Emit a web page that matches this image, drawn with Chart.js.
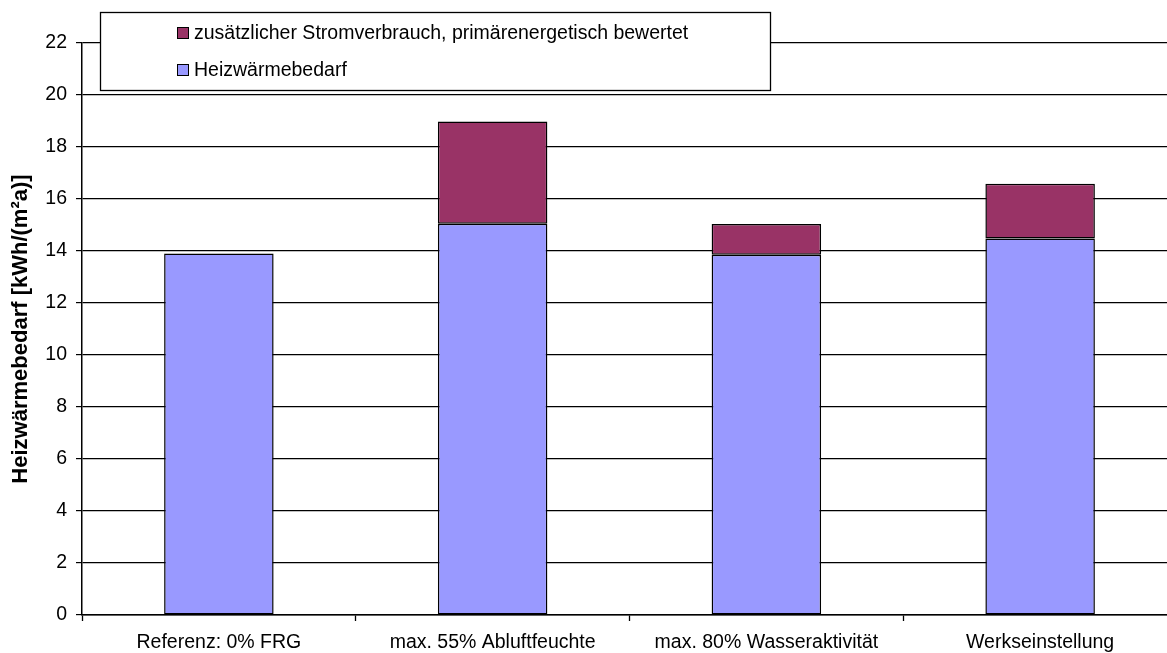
<!DOCTYPE html>
<html>
<head>
<meta charset="utf-8">
<script src="https://cdn.jsdelivr.net/npm/chart.js@4"></script>
<style>
html,body{margin:0;padding:0;background:#fff;overflow:hidden;}
#wrap{width:1180px;height:653px;position:relative;}
</style>
</head>
<body>
<div id="wrap"><canvas id="c" width="1180" height="653"></canvas></div>
<script>
const categories = ['Referenz: 0% FRG', 'max. 55% Abluftfeuchte', 'max. 80% Wasseraktivität', 'Werkseinstellung'];
const heizwaermebedarf = [13.9, 15.05, 13.86, 14.48];
const zusatzStrom = [null, 3.93, 1.18, 2.11];
const seriesLabels = ['Heizwärmebedarf', 'zusätzlicher Stromverbrauch, primärenergetisch bewertet'];
const yTitle = 'Heizwärmebedarf [kWh/(m²a)]';
const yMin = 0, yMax = 22, yStep = 2;

const FONT = '"Liberation Sans", Arial, sans-serif';

const boxLegend = {
  id: 'boxLegend',
  afterDraw(chart) {
    const ctx = chart.ctx;
    ctx.save();
    ctx.fillStyle = '#ffffff';
    ctx.fillRect(100.5, 12.5, 670, 78);
    ctx.strokeStyle = '#000';
    ctx.lineWidth = 1.3;
    ctx.strokeRect(100.5, 12.5, 670, 78);
    const ds = chart.data.datasets.slice().reverse();
    const ys = [33, 70];
    ctx.font = '19.5px ' + FONT;
    ctx.textBaseline = 'middle';
    ctx.textAlign = 'left';
    ctx.lineWidth = 1;
    ds.forEach((d, i) => {
      const y = ys[i];
      ctx.fillStyle = d.backgroundColor;
      ctx.fillRect(177.5, y - 5.5, 11, 11);
      ctx.strokeStyle = '#000';
      ctx.strokeRect(177.5, y - 5.5, 11, 11);
      ctx.fillStyle = '#000';
      ctx.fillText(d.label, 194, y + 1);
    });
    ctx.restore();
  }
};

new Chart(document.getElementById('c'), {
  type: 'bar',
  data: {
    labels: categories,
    datasets: [
      { label: seriesLabels[0], data: heizwaermebedarf, backgroundColor: '#9999FF', borderColor: '#000', borderWidth: 1.5, borderSkipped: false, barPercentage: 0.4, categoryPercentage: 1 },
      { label: seriesLabels[1], data: zusatzStrom, backgroundColor: '#993366', borderColor: '#000', borderWidth: 1.5, borderSkipped: false, barPercentage: 0.4, categoryPercentage: 1 }
    ]
  },
  options: {
    responsive: false,
    animation: false,
    devicePixelRatio: 1,
    layout: { padding: { left: 0, right: 3, top: 43, bottom: 0 } },
    plugins: { legend: { display: false }, tooltip: { enabled: false }, title: { display: false } },
    scales: {
      x: {
        stacked: true,
        offset: true,
        grid: { display: true, drawOnChartArea: false, offset: true, color: '#000', tickLength: 6, tickWidth: 1.3 },
        border: { color: '#000', width: 1.5 },
        ticks: { color: '#000', font: { family: FONT, size: 19.5 }, padding: 10, maxRotation: 0, autoSkip: false },
        afterFit(s) { s.height = 38; }
      },
      y: {
        stacked: true,
        min: yMin, max: yMax,
        grid: { color: '#000', lineWidth: 1.2, tickLength: 6 },
        border: { color: '#000', width: 1.5 },
        ticks: { stepSize: yStep, color: '#000', font: { family: FONT, size: 19.5 }, padding: 9 },
        title: { display: true, text: yTitle, color: '#000', font: { family: FONT, size: 22, weight: 'bold' }, padding: { top: 8, bottom: 0 } },
        afterFit(s) { s.width = 82; }
      }
    }
  },
  plugins: [boxLegend]
});
</script>
</body>
</html>
